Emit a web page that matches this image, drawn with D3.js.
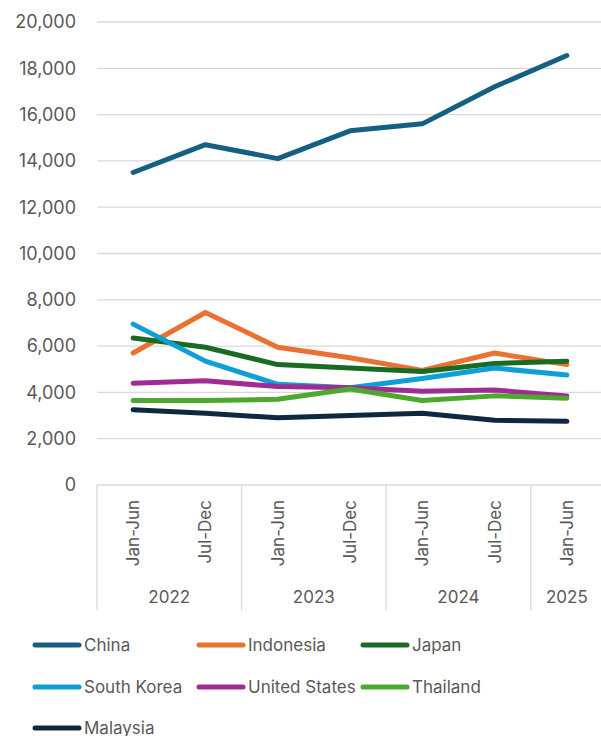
<!DOCTYPE html>
<html>
<head>
<meta charset="utf-8">
<script src="https://cdn.jsdelivr.net/npm/d3@7"></script>
<style>
  body { margin: 0; background: #fff; }
  svg text { font-family: Inter, "Liberation Sans", sans-serif; fill: #595959; }
</style>
</head>
<body>
<svg id="chart" width="601" height="736"></svg>
<script>
// periods (lower level) and years (upper level) of the category axis
var periods = ["Jan-Jun", "Jul-Dec", "Jan-Jun", "Jul-Dec", "Jan-Jun", "Jul-Dec", "Jan-Jun"];
var years = ["2022", "2023", "2024", "2025"];
var yearSpans = [2, 2, 2, 1];
var yTicks = [0, 2000, 4000, 6000, 8000, 10000, 12000, 14000, 16000, 18000, 20000];

var countries = ["China", "Indonesia", "Japan", "South Korea", "United States", "Thailand", "Malaysia"];
var colors = ["#156082", "#E97132", "#196B24", "#0F9ED5", "#A02B93", "#4EA72E", "#0E2841"];

var china = [13500, 14700, 14100, 15300, 15600, 17200, 18550];
var indonesia = [5700, 7450, 5950, 5500, 4950, 5700, 5200];
var japan = [6350, 5950, 5200, 5050, 4900, 5250, 5350];
var southKorea = [6950, 5350, 4350, 4200, 4600, 5050, 4750];
var unitedStates = [4400, 4500, 4250, 4200, 4050, 4100, 3850];
var thailand = [3650, 3650, 3700, 4150, 3650, 3850, 3750];
var malaysia = [3250, 3100, 2900, 3000, 3100, 2800, 2750];

var series = [china, indonesia, japan, southKorea, unitedStates, thailand, malaysia];

var svg = d3.select("#chart");
var plotL = 97, plotR = 603, plotT = 22, plotB = 485;

var x = d3.scaleBand().domain(d3.range(periods.length)).range([plotL, plotR]);
var y = d3.scaleLinear().domain([0, 20000]).range([plotB, plotT]);
var cx = function(i) { return x(i) + x.bandwidth() / 2; };

// gridlines
svg.append("g").selectAll("line")
    .data(yTicks)
    .enter().append("line")
    .attr("x1", plotL).attr("x2", plotR)
    .attr("y1", function(d) { return y(d); })
    .attr("y2", function(d) { return y(d); })
    .attr("stroke", "#d9d9d9")
    .attr("stroke-width", 1.3);

// y labels
svg.append("g").selectAll("text")
    .data(yTicks)
    .enter().append("text")
    .attr("x", 76)
    .attr("y", function(d) { return y(d); })
    .attr("dy", "0.35em")
    .attr("text-anchor", "end")
    .style("font-size", "18px")
    .text(function(d) { return d3.format(",")(d); });

// category axis: boundaries between years
var bounds = [0];
yearSpans.forEach(function(s, i) { bounds.push(bounds[i] + s); });
svg.append("g").selectAll("line")
    .data(bounds)
    .enter().append("line")
    .attr("x1", function(d) { return plotL + d * x.bandwidth(); })
    .attr("x2", function(d) { return plotL + d * x.bandwidth(); })
    .attr("y1", plotB).attr("y2", 610)
    .attr("stroke", "#d9d9d9")
    .attr("stroke-width", 1.3);

svg.append("g").selectAll("text")
    .data(periods)
    .enter().append("text")
    .attr("transform", function(d, i) { return "translate(" + cx(i) + ",500) rotate(-90)"; })
    .attr("dy", "0.35em")
    .attr("text-anchor", "end")
    .style("font-size", "17px")
    .text(function(d) { return d; });

svg.append("g").selectAll("text")
    .data(years)
    .enter().append("text")
    .attr("x", function(d, i) { return plotL + (bounds[i] + bounds[i + 1]) / 2 * x.bandwidth(); })
    .attr("y", 597)
    .attr("dy", "0.35em")
    .attr("text-anchor", "middle")
    .style("font-size", "17px")
    .text(function(d) { return d; });

// lines
var line = d3.line()
    .x(function(d, i) { return cx(i); })
    .y(function(d) { return y(d); });

svg.append("g").selectAll("path")
    .data(series)
    .enter().append("path")
    .attr("d", line)
    .attr("fill", "none")
    .attr("stroke", function(d, i) { return colors[i]; })
    .attr("stroke-width", 5)
    .attr("stroke-linecap", "round")
    .attr("stroke-linejoin", "round");

// legend
var legX = [33, 197, 361], legY = [645, 687, 728];
var leg = svg.append("g").selectAll("g")
    .data(countries)
    .enter().append("g")
    .attr("transform", function(d, i) { return "translate(" + legX[i % 3] + "," + legY[Math.floor(i / 3)] + ")"; });

leg.append("line")
    .attr("x1", 2).attr("x2", 46)
    .attr("stroke", function(d, i) { return colors[i]; })
    .attr("stroke-width", 5)
    .attr("stroke-linecap", "round");

leg.append("text")
    .attr("x", 51)
    .attr("dy", "0.35em")
    .style("font-size", "17px")
    .text(function(d) { return d; });
</script>
</body>
</html>
